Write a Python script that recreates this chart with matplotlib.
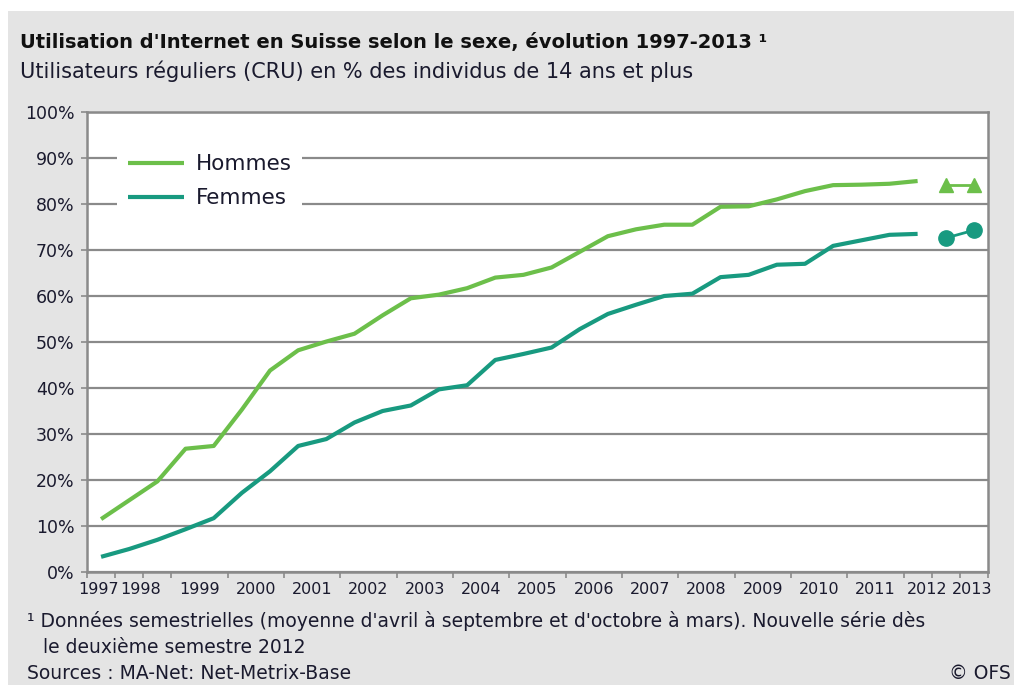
import numpy as np
import matplotlib
matplotlib.use("Agg")
import matplotlib.pyplot as plt  # to plot
from matplotlib.patches import Rectangle

# semester values (%), old series 1997 S1 .. 2011 S2
hommes = [11.5, 15.6, 19.7, 26.8, 27.4, 35.3, 43.8, 48.2, 50.1, 51.8,
          55.8, 59.5, 60.3, 61.7, 64.0, 64.6, 66.2, 69.6, 73.0, 74.5,
          75.5, 75.5, 79.4, 79.5, 81.0, 82.8, 84.1, 84.2, 84.4, 85.0]
femmes = [3.3, 5.0, 7.0, 9.3, 11.7, 17.2, 21.9, 27.4, 28.9, 32.5,
          35.0, 36.2, 39.7, 40.6, 46.1, 47.4, 48.8, 52.8, 56.1, 58.1,
          60.0, 60.5, 64.1, 64.6, 66.8, 67.0, 70.9, 72.1, 73.3, 73.5]
# new series (2 semesters)
hommes_new = [84.1, 84.1]
femmes_new = [72.6, 74.3]

years = list(range(1997, 2014))
yticks = list(range(0, 101, 10))

green = "#6cbf4a"
teal = "#189a80"
grey = "#8a8a8a"
txt = "#1a1a2e"

# wide font, closer to the letter-spaced look of the original
plt.rcParams["font.family"] = ["DejaVu Sans"]

W, H = 1014, 685
fig = plt.figure(figsize=(W / 100, H / 100), dpi=100, facecolor="white")
# grey panel behind everything
fig.add_artist(Rectangle((8 / W, 0), 1 - 8 / W, 1 - 11 / H, transform=fig.transFigure,
                         facecolor="#e4e4e4", edgecolor="none", zorder=-10))

ax = fig.add_axes([87 / W, (H - 572) / H, 901 / W, 460 / H])
ax.set_facecolor("white")

x_old = np.arange(len(hommes)) + 0.5
x_new = np.arange(len(hommes), len(hommes) + len(hommes_new)) + 0.5

ax.plot(x_old, hommes, color=green, lw=3, solid_capstyle="butt", label="Hommes", zorder=3)
ax.plot(x_old, femmes, color=teal, lw=3, solid_capstyle="butt", label="Femmes", zorder=3)
ax.plot(x_new, hommes_new, color=green, lw=2, marker="^", ms=10, zorder=3)
ax.plot(x_new, femmes_new, color=teal, lw=2, marker="o", ms=11, zorder=3)

ax.set_xlim(0, 32)
ax.set_ylim(0, 100)
ax.set_yticks(yticks)
ax.set_yticklabels([f"{v}%" for v in yticks])
ax.yaxis.grid(True, color=grey, lw=1.6)
ax.set_axisbelow(True)

# small tick per semester; year labels at start of each year,
# the crowded ones at both ends nudged inward like the original
ax.set_xticks(range(33), minor=True)
label_pos = [2.0 * (y - 1997) for y in years]
label_pos[0] = 0.4
label_pos[1] = 1.9
label_pos[-2] = 29.85
label_pos[-1] = 31.45
ax.set_xticks(label_pos)
ax.set_xticklabels([str(y) for y in years])

ax.tick_params(axis="x", which="minor", length=4, width=1.2, color=grey)
ax.tick_params(axis="x", which="major", length=0, pad=7, labelsize=11.5, labelcolor=txt)
ax.tick_params(axis="y", length=4, width=1.2, color=grey, pad=5, labelsize=12.5, labelcolor=txt)
for s in ax.spines.values():
    s.set_color(grey)
    s.set_linewidth(1.8)

leg = ax.legend(loc="upper left", bbox_to_anchor=(30 / 901, 0.932), borderaxespad=0,
                fontsize=15.5, frameon=True, facecolor="white", edgecolor="none",
                framealpha=1, fancybox=False, handlelength=2.6, handletextpad=0.55,
                labelspacing=0.65, borderpad=0.5)
for t in leg.get_texts():
    t.set_color(txt)
leg.set_zorder(5)

fig.text(20 / W, 1 - 48 / H, "Utilisation d'Internet en Suisse selon le sexe, évolution 1997-2013 ¹",
         fontsize=14, fontweight="bold", color="#111111", va="baseline")
fig.text(20 / W, 1 - 78 / H, "Utilisateurs réguliers (CRU) en % des individus de 14 ans et plus",
         fontsize=15, color=txt, va="baseline")

fig.text(27 / W, 1 - 627 / H,
         "¹ Données semestrielles (moyenne d'avril à septembre et d'octobre à mars). Nouvelle série dès",
         fontsize=13.5, color=txt, va="baseline")
fig.text(43 / W, 1 - 653 / H, "le deuxième semestre 2012", fontsize=13.5, color=txt, va="baseline")
fig.text(27 / W, 1 - 683 / H, "Sources : MA-Net: Net-Metrix-Base", fontsize=13.5, color=txt, va="bottom")
fig.text(1 - 3 / W, 1 - 683 / H, "© OFS", fontsize=13.5, color=txt, va="bottom", ha="right")

fig.savefig("out.png", dpi=100, facecolor=fig.get_facecolor())
